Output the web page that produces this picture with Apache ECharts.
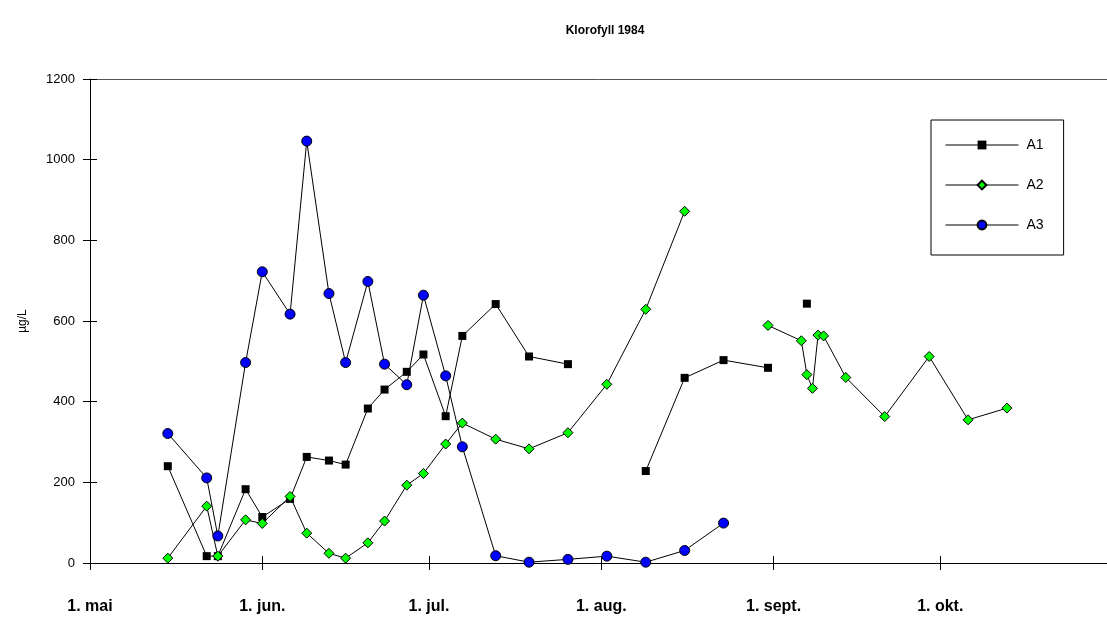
<!DOCTYPE html>
<html>
<head>
<meta charset="utf-8">
<title>Klorofyll 1984</title>
<script src="https://cdn.jsdelivr.net/npm/echarts@6/dist/echarts.min.js"></script>
<style>
  html, body { margin: 0; padding: 0; background: #fff; }
  #chart { width: 1107px; height: 617px; }
</style>
</head>
<body>
<div id="chart"></div>
<script>
// sampling dates (1984)
const dates = [
  '1984-05-15', '1984-05-22', '1984-05-24', '1984-05-29', '1984-06-01',
  '1984-06-06', '1984-06-09', '1984-06-13', '1984-06-16', '1984-06-20',
  '1984-06-23', '1984-06-27', '1984-06-30', '1984-07-04', '1984-07-07',
  '1984-07-13', '1984-07-19', '1984-07-26', '1984-08-02', '1984-08-09',
  '1984-08-16', '1984-08-23', '1984-08-31', '1984-09-06', '1984-09-07',
  '1984-09-08', '1984-09-09', '1984-09-10', '1984-09-14', '1984-09-21',
  '1984-09-29', '1984-10-06', '1984-10-13'
];

// µg/L, null = not sampled
const a1 = [240, 17, 17, 183, 114, 159, 263, 254, 244, 383, 430, 474, 517, 364, 563,
  642, 512, 493, null, 228, 459, 503, 484, null, 643, null, null, null, null, null,
  null, null, null];
const a2 = [12, 141, 17, 107, 98, 165, 74, 24, 12, 50, 104, 193, 222, 295, 347,
  307, 283, 323, 443, 629, 872, null, 589, 551, 467, 433, 565, 563, 460, 363,
  512, 355, 384];
const a3 = [321, 211, 67, 497, 722, 617, 1046, 668, 497, 698, 493, 442, 664, 464, 288,
  18, 2, 9, 17, 2, 31, 99, null, null, null, null, null, null, null, null,
  null, null, null];

const monthTicks = ['1984-05-01', '1984-06-01', '1984-07-01', '1984-08-01', '1984-09-01', '1984-10-01'];
const monthNames = ['jan.', 'feb.', 'mar.', 'apr.', 'mai', 'jun.', 'jul.', 'aug.', 'sept.', 'okt.', 'nov.', 'des.'];
const xMin = '1984-05-01';
const xMax = '1984-10-31'; // plot is cut at the right edge just before 1. nov

// days since xMin
function day(s) {
  const p = s.split('-').map(Number);
  const q = xMin.split('-').map(Number);
  return Math.round((Date.UTC(p[0], p[1] - 1, p[2]) - Date.UTC(q[0], q[1] - 1, q[2])) / 86400000);
}

function pairs(vals) {
  return dates.map((d, i) => [day(d), vals[i]]);
}

const chart = echarts.init(document.getElementById('chart'));

const tickDays = monthTicks.map(day);
const labelText = {};
monthTicks.forEach(m => { labelText[day(m)] = '1. ' + monthNames[Number(m.split('-')[1]) - 1]; });
const font = 'Arial, "Liberation Sans", sans-serif';

const option = {
  animation: false,
  title: {
    text: 'Klorofyll 1984',
    left: 600,
    top: 20,
    textAlign: 'center',
    textStyle: { fontFamily: font, fontSize: 12, fontWeight: 'bold', color: '#000' }
  },
  legend: {
    orient: 'vertical',
    left: 931,
    top: 120,
    padding: [18, 20, 23, 14],
    itemGap: 26,
    itemWidth: 73,
    itemHeight: 11,
    borderColor: '#000',
    borderWidth: 1,
    backgroundColor: '#fff',
    lineStyle: { width: 1, color: '#000' },
    textStyle: { fontFamily: font, fontSize: 14, color: '#000', padding: [0, 0, 0, 3] },
    data: ['A1', 'A2', 'A3']
  },
  grid: { left: 90, top: 79, right: 0, bottom: 54 },
  xAxis: [
    {
      type: 'value',
      min: day(xMin),
      max: day(xMax),
      axisLine: { onZero: false, lineStyle: { color: '#000', width: 1 } },
      axisTick: { show: true, length: 7, customValues: tickDays, lineStyle: { color: '#000' } },
      axisLabel: {
        customValues: tickDays,
        margin: 36,
        fontFamily: font,
        fontSize: 16,
        fontWeight: 'bold',
        color: '#000',
        formatter: v => labelText[v] || ''
      },
      splitLine: { show: false }
    },
    {
      type: 'value',
      min: day(xMin),
      max: day(xMax),
      position: 'bottom',
      axisLine: { show: false, onZero: false },
      axisTick: { show: true, inside: true, length: 7, customValues: tickDays, lineStyle: { color: '#000' } },
      axisLabel: { show: false },
      splitLine: { show: false }
    },
    {
      type: 'value',
      min: day(xMin),
      max: day(xMax),
      position: 'top',
      axisLine: { show: true, onZero: false, lineStyle: { color: '#555', width: 1 } },
      axisTick: { show: false },
      axisLabel: { show: false },
      splitLine: { show: false }
    }
  ],
  yAxis: [
    {
      type: 'value',
      min: 0,
      max: 1200,
      interval: 200,
      name: 'µg/L',
      nameLocation: 'middle',
      nameRotate: 90,
      nameGap: 61,
      nameTextStyle: { fontFamily: font, fontSize: 12, color: '#000' },
      axisLine: { show: true, onZero: false, lineStyle: { color: '#000', width: 1 } },
      axisTick: { show: true, length: 7, lineStyle: { color: '#000' } },
      axisLabel: { margin: 15, fontFamily: font, fontSize: 13, color: '#000', formatter: v => String(v) },
      splitLine: { show: false }
    },
    {
      type: 'value',
      min: 0,
      max: 1200,
      interval: 200,
      position: 'left',
      axisLine: { show: false, onZero: false },
      axisTick: { show: true, inside: true, length: 7, lineStyle: { color: '#000' } },
      axisLabel: { show: false },
      splitLine: { show: false }
    }
  ],
  series: [
    {
      name: 'A1',
      type: 'line',
      data: pairs(a1),
      symbol: 'rect',
      symbolSize: 8,
      showAllSymbol: true,
      connectNulls: false,
      lineStyle: { color: '#000', width: 1 },
      itemStyle: { color: '#000', borderColor: '#000', borderWidth: 0 }
    },
    {
      name: 'A2',
      type: 'line',
      data: pairs(a2),
      symbol: 'diamond',
      symbolSize: 10,
      showAllSymbol: true,
      connectNulls: false,
      lineStyle: { color: '#000', width: 1 },
      itemStyle: { color: '#00ff00', borderColor: '#000', borderWidth: 1 }
    },
    {
      name: 'A3',
      type: 'line',
      data: pairs(a3),
      symbol: 'circle',
      symbolSize: 10,
      showAllSymbol: true,
      connectNulls: false,
      lineStyle: { color: '#000', width: 1 },
      itemStyle: { color: '#0000ff', borderColor: '#000', borderWidth: 1 }
    }
  ]
};

chart.setOption(option);
</script>
</body>
</html>
